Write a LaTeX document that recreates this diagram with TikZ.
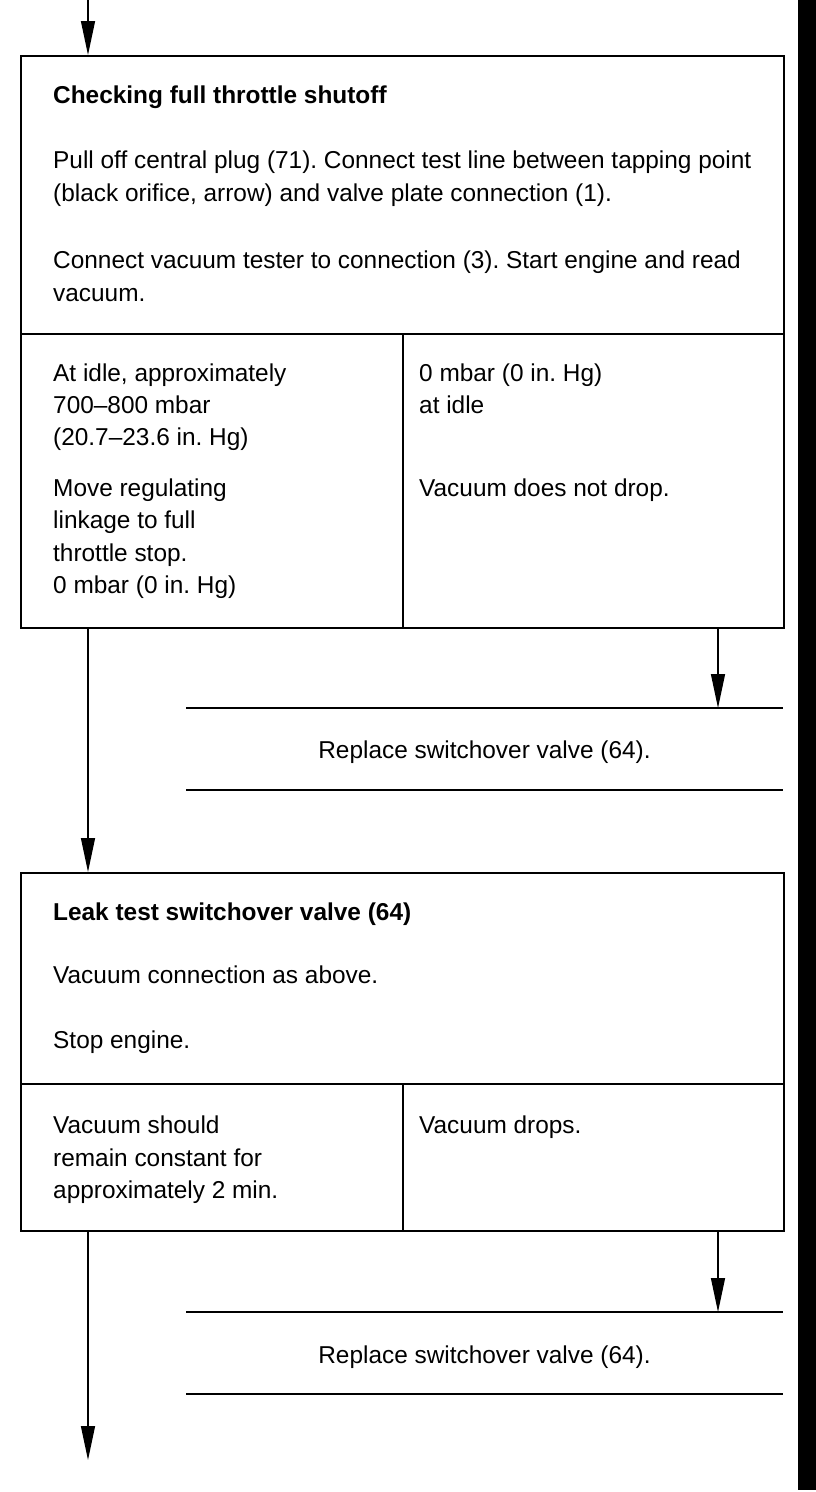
\documentclass[tikz,border=0pt]{standalone}
\usepackage{fontspec}
\setmainfont{Liberation Sans}
\usetikzlibrary{arrows.meta}
\frenchspacing
\begin{document}
\begin{tikzpicture}[x=1pt,y=-1pt,
  box/.style={draw, line width=1.8pt, rectangle, inner sep=0pt, anchor=north west},
  txt/.style={anchor=base west, inner sep=0pt, font=\fontsize{24.4}{33}\selectfont},
  ttl/.style={anchor=base west, inner sep=0pt, font=\fontsize{24.4}{33}\selectfont\bfseries},
  ctr/.style={anchor=base, inner sep=0pt, font=\fontsize{24.4}{33}\selectfont},
  flow/.style={line width=1.4pt, -{Triangle[length=34pt,width=14pt]}},
  rulel/.style={line width=1.8pt}]
\useasboundingbox (0,0) rectangle (816,1492);
% black side bar
\fill (798,0) rectangle (816,1490);

% boxes
\node[box, minimum width=763pt, minimum height=278pt] (b1) at (20,55) {};
\node[box, minimum width=382pt, minimum height=294pt] (b1L) at (20,333) {};
\node[box, minimum width=381pt, minimum height=294pt] (b1R) at (402,333) {};
\node[box, minimum width=763pt, minimum height=211pt] (b2) at (20,872) {};
\node[box, minimum width=382pt, minimum height=147pt] (b2L) at (20,1083) {};
\node[box, minimum width=381pt, minimum height=147pt] (b2R) at (402,1083) {};

% rules around the replace notes
\coordinate (r1a) at (186,708); \coordinate (r1b) at (783,708);
\coordinate (r1c) at (186,790); \coordinate (r1d) at (783,790);
\coordinate (r2a) at (186,1312); \coordinate (r2b) at (783,1312);
\coordinate (r2c) at (186,1394); \coordinate (r2d) at (783,1394);
\draw[rulel] (r1a) -- (r1b);
\draw[rulel] (r1c) -- (r1d);
\draw[rulel] (r2a) -- (r2b);
\draw[rulel] (r2c) -- (r2d);

% texts box 1
\node[ttl] (t1) at (53,103) {Checking full throttle shutoff};
\node[txt] (t2) at (53,168) {Pull off central plug (71). Connect test line between tapping point};
\node[txt] (t3) at (53,201) {(black orifice, arrow) and valve plate connection (1).};
\node[txt] (t4) at (53,268) {Connect vacuum tester to connection (3). Start engine and read};
\node[txt] (t5) at (53,301) {vacuum.};
\node[txt] (t6) at (53,381) {At idle, approximately};
\node[txt] (t7) at (53,413) {700\textendash 800 mbar};
\node[txt] (t8) at (53,445) {(20.7\textendash 23.6 in. Hg)};
\node[txt] (t9) at (53,496) {Move regulating};
\node[txt] (t10) at (53,528) {linkage to full};
\node[txt] (t11) at (53,561) {throttle stop.};
\node[txt] (t12) at (53,593) {0 mbar (0 in. Hg)};
\node[txt] (t13) at (419,381) {0 mbar (0 in. Hg)};
\node[txt] (t14) at (419,413) {at idle};
\node[txt] (t15) at (419,496) {Vacuum does not drop.};
\node[ctr] (rep1) at (484.5,758) {Replace switchover valve (64).};

% texts box 2
\node[ttl] (u1) at (53,920) {Leak test switchover valve (64)};
\node[txt] (u2) at (53,983) {Vacuum connection as above.};
\node[txt] (u3) at (53,1048) {Stop engine.};
\node[txt] (u4) at (53,1133) {Vacuum should};
\node[txt] (u5) at (53,1166) {remain constant for};
\node[txt] (u6) at (53,1198) {approximately 2 min.};
\node[txt] (u7) at (419,1133) {Vacuum drops.};
\node[ctr] (rep2) at (484.5,1363) {Replace switchover valve (64).};

% connectors
\coordinate (start) at (88,0);
\coordinate (rx) at (718,0);
\coordinate (finish) at (88,1460);
\draw[flow] (start) -- (start |- b1.north);
\draw[flow] (b1L.south -| start) -- (b2.north -| start);
\draw[flow] (b1R.south -| rx) -- (r1a -| rx);
\draw[flow] (b2R.south -| rx) -- (r2a -| rx);
\draw[flow] (b2L.south -| start) -- (finish);
\end{tikzpicture}
\end{document}
